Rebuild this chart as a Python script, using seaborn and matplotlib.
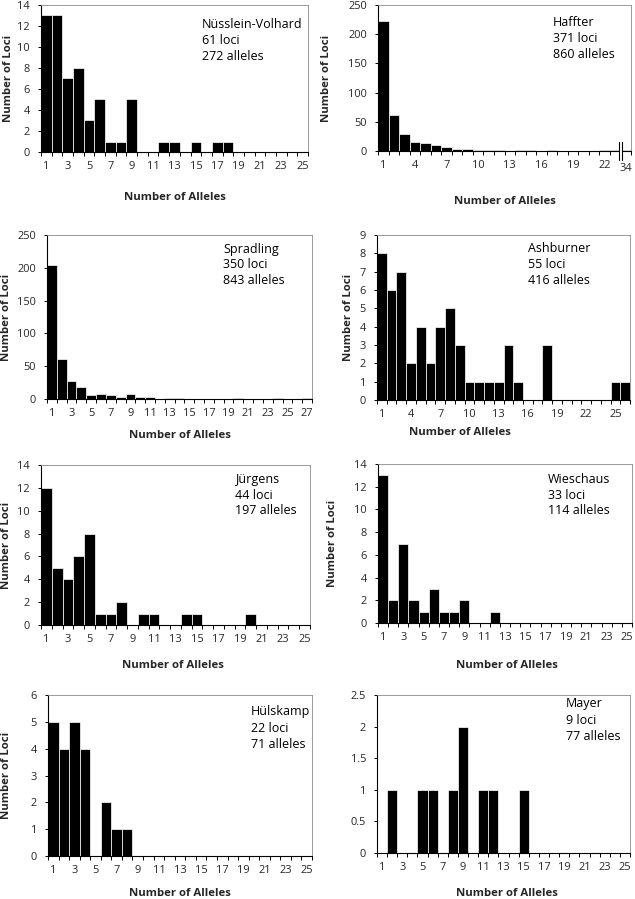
import matplotlib
matplotlib.use("Agg")
import matplotlib.pyplot as plt
import matplotlib.transforms as mtransforms
import seaborn as sns
import pandas as pd
import numpy as np

# ---------------- data ----------------
nv_cats = list(range(1, 26))
nv_vals = [13, 13, 7, 8, 3, 5, 1, 1, 5, 0, 0, 1, 1, 0, 1, 0, 1, 1, 0, 0, 0, 0, 0, 0, 0]

haffter_cats = list(range(1, 24)) + [34]
haffter_vals = [222, 62, 29, 15, 13, 10, 7, 3, 3, 1, 2, 2, 0, 2, 2, 0, 2, 0, 0, 0, 0, 2, 2, 2]

spradling_cats = list(range(1, 28))
spradling_vals = [204, 61, 27, 18, 6, 8, 6, 3, 7, 3, 3, 0, 2, 2, 0, 0, 0, 0, 0, 2, 0, 0, 0, 2, 0, 0, 2]

ashburner_cats = list(range(1, 27))
ashburner_vals = [8, 6, 7, 2, 4, 2, 4, 5, 3, 1, 1, 1, 1, 3, 1, 0, 0, 3, 0, 0, 0, 0, 0, 0, 1, 1]

jurgens_cats = list(range(1, 26))
jurgens_vals = [12, 5, 4, 6, 8, 1, 1, 2, 0, 1, 1, 0, 0, 1, 1, 0, 0, 0, 0, 1, 0, 0, 0, 0, 0]

wieschaus_cats = list(range(1, 26))
wieschaus_vals = [13, 2, 7, 2, 1, 3, 1, 1, 2, 0, 0, 1, 0, 0, 0, 0, 0, 0, 0, 0, 0, 0, 0, 0, 0]

hulskamp_cats = list(range(1, 26))
hulskamp_vals = [5, 4, 5, 4, 0, 2, 1, 1, 0, 0, 0, 0, 0, 0, 0, 0, 0, 0, 0, 0, 0, 0, 0, 0, 0]

mayer_cats = list(range(1, 26))
mayer_vals = [0, 1, 0, 0, 1, 1, 0, 1, 2, 0, 1, 1, 0, 0, 1, 0, 0, 0, 0, 0, 0, 0, 0, 0, 0]

annotations = {
    "nv": ["Nüsslein-Volhard", "61 loci", "272 alleles"],
    "haffter": ["Haffter", "371 loci", "860 alleles"],
    "spradling": ["Spradling", "350 loci", "843 alleles"],
    "ashburner": ["Ashburner", "55 loci", "416 alleles"],
    "jurgens": ["Jürgens", "44 loci", "197 alleles"],
    "wieschaus": ["Wieschaus", "33 loci", "114 alleles"],
    "hulskamp": ["Hülskamp", "22 loci", "71 alleles"],
    "mayer": ["Mayer", "9 loci", "77 alleles"],
}

# ---------------- style ----------------
sns.set_theme(style="white")
plt.rcParams["font.family"] = ["Open Sans", "DejaVu Sans"]

W, H = 635, 899
fig = plt.figure(figsize=(W / 100, H / 100), dpi=100)
fig.patch.set_facecolor("white")

TICK_FS = 7.9
ANN_FS = 9.0
LAB_FS = 8.2


def px_axes(x1, y1, x2, y2):
    return fig.add_axes([x1 / W, 1 - y2 / H, (x2 - x1) / W, (y2 - y1) / H])


def panel(box, cats, vals, yticks, ytl, label_every, ann, ann_xy, xlabel_xy,
          ylabel_x=None, extra_labels=None):
    ax = px_axes(*box)
    df = pd.DataFrame({"cat": [str(c) for c in cats], "val": vals})
    sns.barplot(data=df, x="cat", y="val", order=[str(c) for c in cats],
                color="black", width=1.0, edgecolor="white", linewidth=0.5,
                saturation=1, ax=ax, errorbar=None)
    n = len(cats)
    ax.set_xlim(-0.5, n - 0.5)
    ax.set_ylim(yticks[0], yticks[-1])
    ax.set_yticks(yticks)
    ax.set_yticklabels(ytl, fontsize=TICK_FS)
    pos = list(range(n))
    labels = []
    for i, c in enumerate(cats):
        if extra_labels is not None and c in extra_labels:
            labels.append(str(c))
        elif i % label_every == 0:
            labels.append(str(c))
        else:
            labels.append("")
    ax.set_xticks(pos)
    ax.set_xticklabels(labels, fontsize=TICK_FS)
    ax.set_xticks(np.arange(-0.5, n, 1.0), minor=True)
    ax.tick_params(axis="x", which="major", length=0, pad=6.5)
    ax.tick_params(axis="x", which="minor", length=3, width=0.7, color="black",
                   direction="out", bottom=True)
    ax.tick_params(axis="y", which="major", length=2.5, width=0.7, color="black",
                   direction="out", left=True, pad=5.5)
    ax.set_xlabel("")
    ax.set_ylabel("")
    for s in ["left", "bottom"]:
        ax.spines[s].set_color("black")
        ax.spines[s].set_linewidth(0.8)
    for s in ["top", "right"]:
        ax.spines[s].set_color("#8a8a8a")
        ax.spines[s].set_linewidth(0.6)
    ax.grid(False)
    ax_x, ax_y = ann_xy
    for k, line in enumerate(ann):
        fig.text(ax_x / W, 1 - (ax_y + k * 16) / H, line, fontsize=ANN_FS,
                 ha="left", va="center", color="black")
    if xlabel_xy is not None:
        fig.text(xlabel_xy[0] / W, 1 - xlabel_xy[1] / H, "Number of Alleles",
                 fontsize=LAB_FS, fontweight="bold", ha="center", va="center")
    if ylabel_x is not None:
        yc = (box[1] + box[3]) / 2
        fig.text(ylabel_x / W, 1 - yc / H, "Number of Loci", fontsize=LAB_FS,
                 fontweight="bold", rotation=90, ha="center", va="center")
    return ax


def ints(vals):
    return [str(v) for v in vals]


# Row 1
panel((41, 5, 308, 152), nv_cats, nv_vals, list(range(0, 15, 2)),
      ints(range(0, 15, 2)), 2, annotations["nv"], (202, 24), (175, 198), ylabel_x=9)

axh = panel((378, 5, 631, 151), haffter_cats, haffter_vals, list(range(0, 251, 50)),
            ints(range(0, 251, 50)), 3, annotations["haffter"], (553, 23), (505, 202),
            ylabel_x=327, extra_labels=[34])
trans = mtransforms.blended_transform_factory(axh.transData, axh.transAxes)
axh.add_patch(plt.Rectangle((22.38, -0.06), 0.24, 0.12, transform=trans,
                            facecolor="white", edgecolor="none", clip_on=False, zorder=5))
for xb in (22.38, 22.62):
    axh.plot([xb, xb], [-0.06, 0.06], transform=trans, color="black", lw=0.8,
             clip_on=False, zorder=6)
for t in axh.get_xticklabels():
    if t.get_text() == "34":
        t.set_y(-0.018)

# Row 2
panel((47, 235, 312, 399), spradling_cats, spradling_vals, list(range(0, 251, 50)),
      ints(range(0, 251, 50)), 2, annotations["spradling"], (223, 249), (180, 436), ylabel_x=7)
panel((377, 235, 630, 400), ashburner_cats, ashburner_vals, list(range(0, 10)),
      ints(range(0, 10)), 3, annotations["ashburner"], (528, 248), (460, 433), ylabel_x=348)

# Row 3
panel((41, 465, 310, 625), jurgens_cats, jurgens_vals, list(range(0, 15, 2)),
      ints(range(0, 15, 2)), 2, annotations["jurgens"], (235, 479), (173, 665), ylabel_x=7)
panel((378, 464, 632, 623), wieschaus_cats, wieschaus_vals, list(range(0, 15, 2)),
      ints(range(0, 15, 2)), 2, annotations["wieschaus"], (548, 479), (507, 665), ylabel_x=332)

# Row 4
panel((48, 695, 312, 856), hulskamp_cats, hulskamp_vals, list(range(0, 7)),
      ints(range(0, 7)), 2, annotations["hulskamp"], (251, 712), (180, 893), ylabel_x=7)
panel((377, 695, 630, 853), mayer_cats, mayer_vals, [0, 0.5, 1, 1.5, 2, 2.5],
      ["0", "0.5", "1", "1.5", "2", "2.5"], 2, annotations["mayer"], (566, 704), (507, 893))

fig.savefig("out.png", dpi=100, facecolor="white")
